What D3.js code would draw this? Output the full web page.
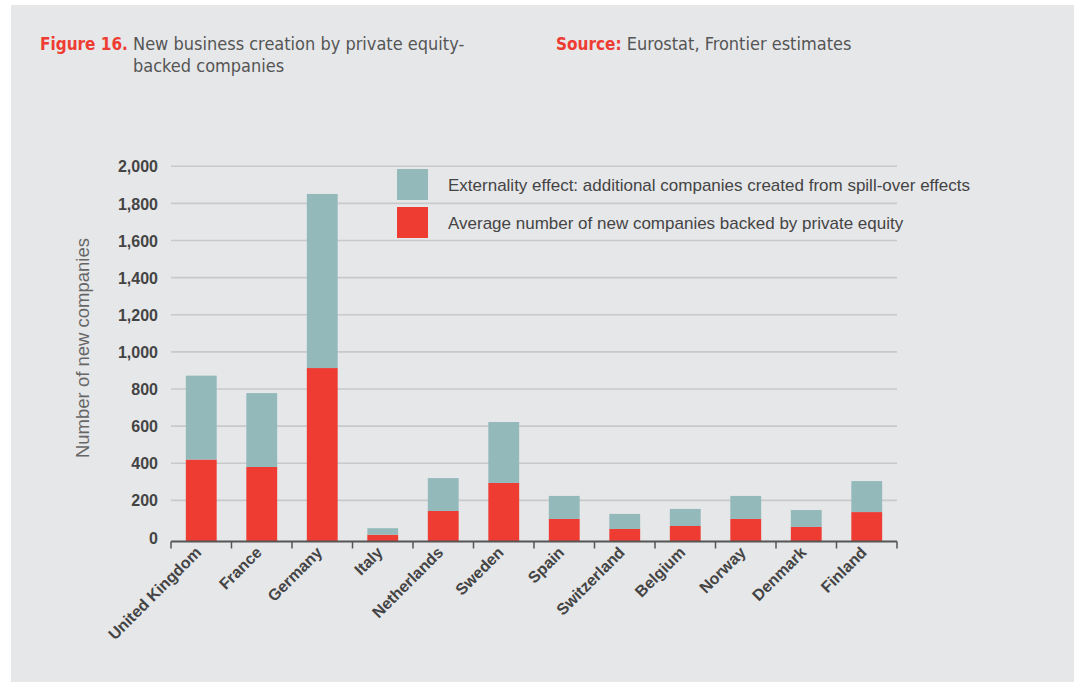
<!DOCTYPE html>
<html><head><meta charset="utf-8">
<script src="https://cdn.jsdelivr.net/npm/d3@7"></script>
<style>body{margin:0;background:#fff;}svg{display:block;}</style>
</head><body>
<script>
const countries = ["United Kingdom","France","Germany","Italy","Netherlands","Sweden","Spain","Switzerland","Belgium","Norway","Denmark","Finland"];
const backedByPE = [420,380,913,15,143,294,100,46,62,100,57,137];
const externality = [452,398,938,35,177,328,124,81,92,124,91,167];
const yTicks = [0,200,400,600,800,1000,1200,1400,1600,1800,2000];
const seriesNames = ["Externality effect: additional companies created from spill-over effects","Average number of new companies backed by private equity"];
const colors = {ext:"#93b9bb", pe:"#ee3c33"};

const W=1074,H=682;
const svg=d3.select("body").append("svg").attr("width",W).attr("height",H);
svg.append("rect").attr("x",11).attr("y",5).attr("width",W-11).attr("height",H-5).attr("fill","#e6e7e9");

const x=d3.scaleBand().domain(countries).range([171,897]).paddingInner(0.49).paddingOuter(0.245);
const y=d3.scaleLinear().domain([0,2000]).range([537.5,166.3]);
const axisY=541.5;

// gridlines
svg.append("g").selectAll("line").data(yTicks.filter(d=>d>0)).join("line")
  .attr("x1",171).attr("x2",897).attr("y1",d=>y(d)).attr("y2",d=>y(d))
  .attr("stroke","#c8c9cb").attr("stroke-width",1.6);

// y tick labels
const yAxis=d3.axisLeft(y).tickValues(yTicks).tickFormat(d3.format(",")).tickSize(0).tickPadding(0);
const gy=svg.append("g").attr("transform","translate(158,0)").call(yAxis);
gy.select(".domain").remove();
gy.selectAll("text").attr("font-family","Liberation Sans, Arial, sans-serif").attr("font-weight","bold")
  .attr("font-size",16).attr("fill","#444").attr("dy","0.35em");

// y title
svg.append("text").attr("transform","translate(89,348) rotate(-90)").attr("text-anchor","middle")
  .attr("font-family","Liberation Sans, Arial, sans-serif").attr("font-size",18.5).attr("fill","#666")
  .text("Number of new companies");

// stacked bars
const stackData=countries.map((c,i)=>({c,pe:backedByPE[i],ext:externality[i]}));
const stack=d3.stack().keys(["pe","ext"])(stackData);
svg.append("g").selectAll("g").data(stack).join("g").attr("fill",d=>colors[d.key])
  .selectAll("rect").data(d=>d).join("rect")
  .attr("x",d=>x(d.data.c)).attr("width",x.bandwidth())
  .attr("y",d=>y(d[1]))
  .attr("height",d=>(d[0]===0?axisY:y(d[0]))-y(d[1]));

// x axis line and ticks
const bounds=countries.map(c=>x(c)-x.step()*x.paddingInner()/2).concat([897]);
bounds[0]=171;
const ga=svg.append("g");
ga.append("line").attr("x1",171).attr("x2",897).attr("y1",axisY).attr("y2",axisY).attr("stroke","#555").attr("stroke-width",2);
ga.selectAll("line.t").data(bounds).join("line").attr("class","t")
  .attr("x1",d=>d).attr("x2",d=>d).attr("y1",axisY).attr("y2",axisY+7).attr("stroke","#555").attr("stroke-width",1.5);

// x labels
svg.append("g").selectAll("text").data(countries).join("text")
  .attr("transform",d=>`translate(${x(d)+x.bandwidth()/2+1},${axisY+12}) rotate(-45)`)
  .attr("text-anchor","end").attr("font-family","Liberation Sans, Arial, sans-serif").attr("font-weight","bold")
  .attr("font-size",16).attr("fill","#444").text(d=>d);

// legend
const leg=svg.append("g");
[["ext",0],["pe",1]].forEach(([k,i])=>{
  leg.append("rect").attr("x",397).attr("y",169+i*38).attr("width",31).attr("height",31).attr("fill",colors[k]);
  leg.append("text").attr("x",448).attr("y",185+i*38).attr("dy","0.35em")
    .attr("font-family","Liberation Sans, Arial, sans-serif").attr("font-size",17).attr("fill","#444").text(seriesNames[i]);
});

// title
const tf="Liberation Sans Narrow, DejaVu Sans Condensed, Arial Narrow, sans-serif";
const t=svg.append("text").attr("x",40).attr("y",50).attr("font-family",tf).attr("font-size",18);
t.append("tspan").attr("fill","#ee3c33").attr("font-weight","bold").attr("font-size",17).text("Figure 16.");
t.append("tspan").attr("fill","#555").text(" New business creation by private equity-");
svg.append("text").attr("x",133).attr("y",72).attr("font-family",tf).attr("font-size",18).attr("fill","#555").text("backed companies");
const s=svg.append("text").attr("x",556).attr("y",50).attr("font-family",tf).attr("font-size",18);
s.append("tspan").attr("fill","#ee3c33").attr("font-weight","bold").attr("font-size",17).text("Source:");
s.append("tspan").attr("fill","#555").text(" Eurostat, Frontier estimates");
</script>
</body></html>
